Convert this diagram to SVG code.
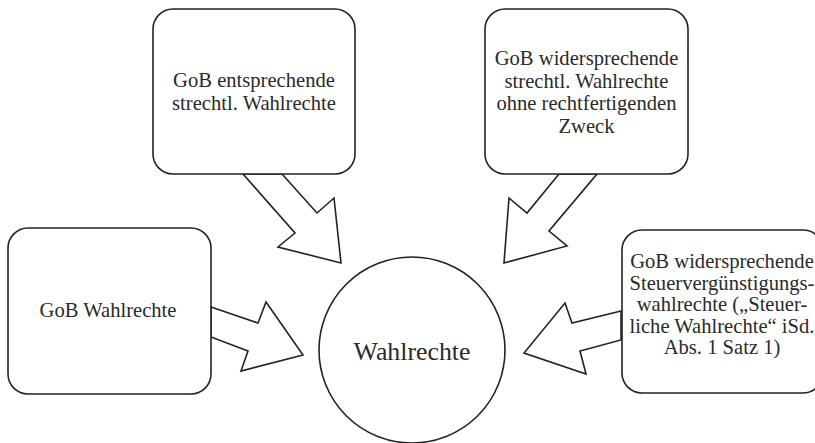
<svg xmlns="http://www.w3.org/2000/svg" width="815" height="443" viewBox="0 0 815 443">
<style>
.box{fill:#fff;stroke:#222;stroke-width:1.6}
.arr{fill:#fff;stroke:#222;stroke-width:1.6;stroke-linejoin:miter}
.t{font-family:"Liberation Serif","DejaVu Serif",serif;font-size:20.6px;fill:#2a2a2a;text-anchor:middle}
.c{font-size:25.8px}
</style>
<rect width="815" height="443" fill="#fff"/>
<g id="connectors">
<polygon class="arr" points="243,174 295,233 278,247 341,263 334,198 317,213 282,174"/>
<polygon class="arr" points="559,174 527,213 509,198 504,263 567,246 549,231 597,174"/>
<polygon class="arr" points="211,307 258,323 266,302 303,355 241,371 248,351 211,337"/>
<polygon class="arr" points="621,311 572,323 565,303 524,353 586,374 580,351 621,340"/>
</g>
<g id="node-center">
<circle class="box" cx="412" cy="350" r="93"/>
<text class="t c" x="412" y="360">Wahlrechte</text>
</g>
<g id="node-top-left">
<rect class="box" x="153" y="9" width="202" height="165" rx="20"/>
<text class="t" x="254" y="87">GoB entsprechende</text>
<text class="t" x="254" y="110">strechtl. Wahlrechte</text>
</g>
<g id="node-top-right">
<rect class="box" x="485" y="9" width="203" height="165" rx="20"/>
<text class="t" x="586.5" y="65">GoB widersprechende</text>
<text class="t" x="586.5" y="87.5">strechtl. Wahlrechte</text>
<text class="t" x="586.5" y="110">ohne rechtfertigenden</text>
<text class="t" x="586.5" y="132.5">Zweck</text>
</g>
<g id="node-left">
<rect class="box" x="8" y="228" width="203" height="166" rx="20"/>
<text class="t" x="108" y="317">GoB Wahlrechte</text>
</g>
<g id="node-right">
<rect class="box" x="622" y="230" width="201" height="163" rx="20"/>
<text class="t" x="722" y="268">GoB widersprechende</text>
<text class="t" x="722" y="289.5">Steuervergünstigungs-</text>
<text class="t" x="722" y="311">wahlrechte („Steuer-</text>
<text class="t" x="722" y="332.5">liche Wahlrechte“ iSd.</text>
<text class="t" x="722" y="354">Abs. 1 Satz 1)</text>
</g>
</svg>
